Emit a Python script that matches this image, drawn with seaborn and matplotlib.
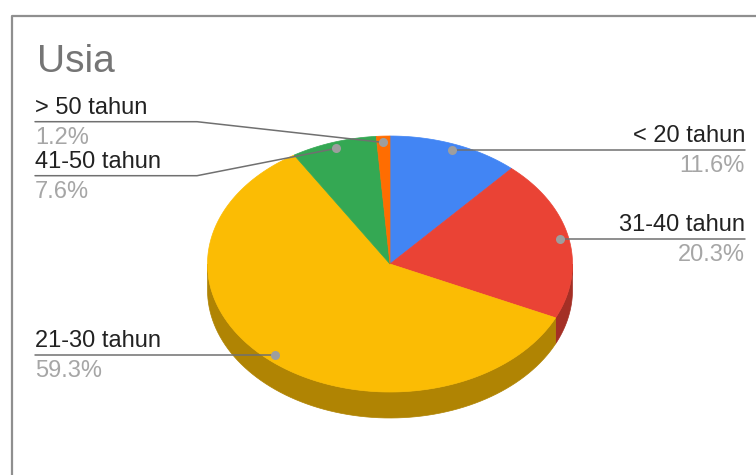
import numpy as np
import matplotlib
matplotlib.use("Agg")
import matplotlib.pyplot as plt
import seaborn as sns

# ---- data
labels = ['< 20 tahun', '31-40 tahun', '21-30 tahun', '41-50 tahun', '> 50 tahun']
values = [11.6, 20.3, 59.3, 7.6, 1.2]
colors = ['#4285F4', '#EA4335', '#FBBC04', '#34A853', '#FF6D01']
title = 'Usia'

# ---- layout (pixels, y down)
cx, cy = 390, 264
rx, ry = 182.5, 128
depth = 26
label_side = ['right', 'right', 'left', 'left', 'left']
label_line_y = [None, None, None, 175.7, 121.7]   # None -> follow the dot
left_x, right_x, elbow_x = 35, 745, 197

sns.set_theme(style='white')
plt.rcParams['font.family'] = ['Liberation Sans', 'DejaVu Sans']

fig = plt.figure(figsize=(7.56, 4.75), dpi=100)
ax = fig.add_axes([0, 0, 1, 1])
ax.set_xlim(0, 756)
ax.set_ylim(475, 0)
ax.axis('off')

# frame
ax.plot([11.5, 11.5, 760], [480, 16, 16], color='#8f8f8f', lw=1.6, solid_capstyle='butt')

ax.text(37, 72, title, fontsize=28, color='#757575', va='baseline', ha='left')


def ell(t, dz=0):
    t = np.radians(t)
    return cx + rx * np.cos(t), cy - ry * np.sin(t) + dz


def darker(c, f=0.7):
    r, g, b = matplotlib.colors.to_rgb(c)
    return (r * f, g * f, b * f)


fracs = np.array(values) / sum(values)
starts = 90 - 360 * np.concatenate([[0], np.cumsum(fracs)[:-1]])
ends = starts - 360 * fracs

# side walls (front half only)
for a0, a1, c in zip(starts, ends, colors):
    lo, hi = max(a1, -180), min(a0, 0)
    if hi <= lo:
        continue
    t = np.linspace(lo, hi, 80)
    x, y = ell(t)
    xb, yb = ell(t[::-1], depth)
    ax.fill(np.r_[x, xb], np.r_[y, yb], color=darker(c), lw=0.5, ec=darker(c))

# top faces
for a0, a1, c in zip(starts, ends, colors):
    t = np.linspace(a1, a0, 200)
    x, y = ell(t)
    ax.fill(np.r_[cx, x], np.r_[cy, y], color=c, lw=0.5, ec=c)

# leader lines + labels
for i, (lab, v) in enumerate(zip(labels, values)):
    mid = (starts[i] + ends[i]) / 2
    t = np.radians(mid)
    px, py = cx + 0.95 * rx * np.cos(t), cy - 0.95 * ry * np.sin(t)
    ly = label_line_y[i] if label_line_y[i] is not None else py
    if label_side[i] == 'right':
        ax.plot([px, right_x], [py, ly], color='#707070', lw=1.1)
        tx, ha = right_x, 'right'
    else:
        if label_line_y[i] is None:
            ax.plot([left_x, px], [ly, py], color='#707070', lw=1.1)
        else:
            ax.plot([left_x, elbow_x, px], [ly, ly, py], color='#707070', lw=1.1)
        tx, ha = left_x, 'left'
    ax.plot(px, py, 'o', ms=6.5, color='#9e9e9e', mec='none')
    ax.text(tx, ly - 8, lab, fontsize=17, color='#222222', ha=ha, va='baseline')
    ax.text(tx, ly + 22, f'{v:.1f}%', fontsize=17, color='#a6a6a6', ha=ha, va='baseline')

fig.savefig('out.png', dpi=100)
